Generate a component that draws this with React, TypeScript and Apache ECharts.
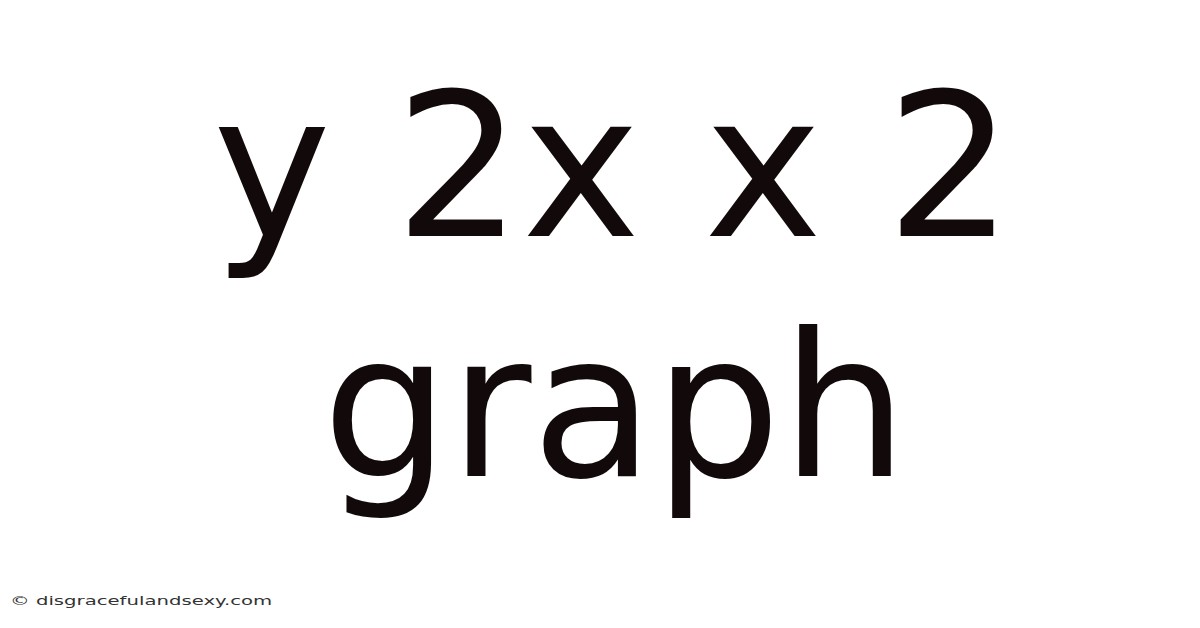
import React, { useEffect, useRef } from 'react';
import * as echarts from 'echarts';

// 标题文字（按行）
const titleLines: string[] = ['y 2x x 2', 'graph'];
// 页脚文字
const footerText = '© disgracefulandsexy.com';

const App: React.FC = () => {
  const chartRef = useRef<HTMLDivElement>(null);

  useEffect(() => {
    document.body.style.margin = '0';
    if (!chartRef.current) return;
    const chart = echarts.init(chartRef.current, undefined, { renderer: 'svg' });

    const fontSize = 200;
    // 每行的基线位置（像素）
    const baselines = [236, 476];
    const centerX = [613, 615];
    // dominant-baseline central 时，基线约在 y 下方 0.346em
    const centralOffset = 0.346 * fontSize;

    const option: echarts.EChartsCoreOption = {
      animation: false,
      backgroundColor: '#ffffff',
      graphic: [
        ...titleLines.map((line, i) => ({
          type: 'text',
          x: centerX[i],
          y: baselines[i] - centralOffset,
          style: {
            text: line,
            fontFamily: 'DejaVu Sans',
            fontSize,
            fill: '#120a0a',
            align: 'center',
            verticalAlign: 'middle'
          }
        })),
        {
          type: 'text',
          x: 10,
          y: 601,
          scaleX: 1.64,
          style: {
            text: footerText,
            fontFamily: 'DejaVu Sans',
            fontSize: 12,
            fill: '#333333',
            align: 'left',
            verticalAlign: 'middle'
          }
        }
      ]
    };

    chart.setOption(option);

    return () => {
      chart.dispose();
    };
  }, []);

  return <div ref={chartRef} style={{ width: '1200px', height: '628px' }} />;
};

export default App;
